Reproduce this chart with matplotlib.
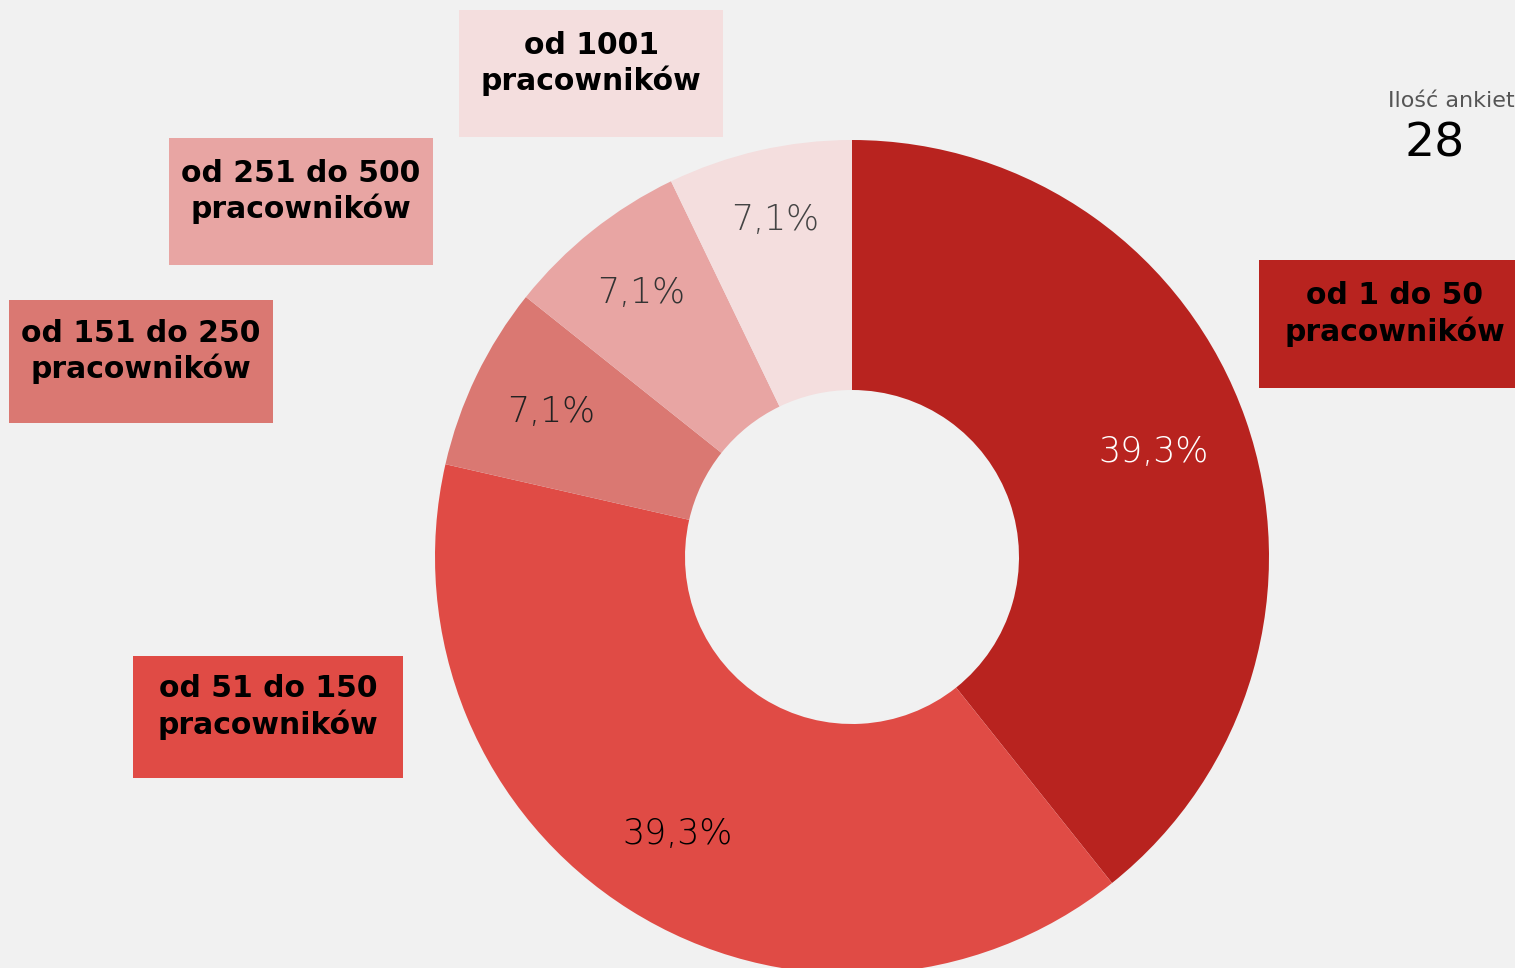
import matplotlib
matplotlib.use("Agg")
import matplotlib.pyplot as plt
from matplotlib.patches import Rectangle
import numpy as np

# dane
kategorie = ["od 1 do 50\npracowników", "od 51 do 150\npracowników",
             "od 151 do 250\npracowników", "od 251 do 500\npracowników",
             "od 1001\npracowników"]
liczby = [11, 11, 2, 2, 2]
etykiety_proc = ["39,3%", "39,3%", "7,1%", "7,1%", "7,1%"]
kolory = ["#B8231F", "#E04B45", "#DA7872", "#E8A5A3", "#F4DEDE"]
kolory_proc = ["white", "black", "#222222", "#333333", "#444444"]
ilosc_ankiet = 28

W, H = 1515, 968
bg = "#F1F1F1"

fig = plt.figure(figsize=(W / 100, H / 100), dpi=100, facecolor=bg)
ax = fig.add_axes([0, 0, 1, 1])
ax.set_facecolor(bg)

cx, cy, R, r_in = 852, H - 557, 417, 167
wedges, _ = ax.pie(liczby, colors=kolory, startangle=90, counterclock=False,
                   center=(cx, cy), radius=R, frame=True,
                   wedgeprops=dict(width=R - r_in, linewidth=0))
ax.set_xlim(0, W)
ax.set_ylim(0, H)
ax.axis("off")

# etykiety procentowe
odl = [0.765, 0.785, 0.80, 0.81, 0.83]
for w, txt, kol, d in zip(wedges, etykiety_proc, kolory_proc, odl):
    ang = np.deg2rad((w.theta1 + w.theta2) / 2)
    ax.text(cx + d * R * np.cos(ang), cy + d * R * np.sin(ang), txt,
            ha="center", va="center", fontsize=25, color=kol,
            family="DejaVu Sans", fontweight="light")

# ramki z nazwami kategorii (x0, y0, x1, y1 w pikselach od gory)
ramki = [(1259, 260, 1530, 388), (133, 656, 403, 778), (9, 300, 273, 423),
         (169, 138, 433, 265), (459, 10, 723, 137)]
for (x0, y0, x1, y1), txt, kol in zip(ramki, kategorie, kolory):
    ax.add_patch(Rectangle((x0, H - y1), x1 - x0, y1 - y0, facecolor=kol,
                           edgecolor="none", clip_on=False))
    xt = (x0 + x1) / 2 if x1 < W else 1395
    ax.text(xt, H - (y0 + y1) / 2 + 10, txt,
            ha="center", va="center", fontsize=21.5, fontweight="bold",
            color="black", linespacing=1.25, family="DejaVu Sans")

ax.text(1388, H - 101, "Ilość ankiet", ha="left", va="center", fontsize=16,
        color="#555555", family="DejaVu Sans")
ax.text(1435, H - 144, str(ilosc_ankiet), ha="center", va="center", fontsize=34,
        color="black", family="DejaVu Sans")

fig.savefig("out.png", dpi=100, facecolor=bg)
